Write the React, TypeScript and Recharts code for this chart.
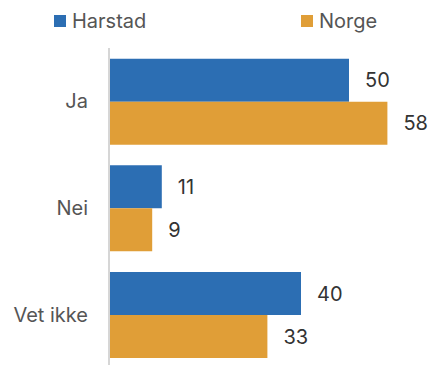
import React from "react";
import { BarChart, Bar, XAxis, YAxis, LabelList } from "recharts";

const categories = ["Ja", "Nei", "Vet ikke"];
const harstad = [50, 11, 40];
const norge = [58, 9, 33];
const seriesNames = ["Harstad", "Norge"];
const seriesColors = ["#2c6eb3", "#e09e37"];

const data = categories.map((c, i) => ({ name: c, Harstad: harstad[i], Norge: norge[i] }));

const FONT = "Inter, 'Noto Sans', sans-serif";

export default function App() {
  return (
    <div style={{ position: "absolute", left: 0, top: 0, width: 431, height: 365, overflow: "hidden", background: "#fff", fontFamily: FONT }}>
      <div style={{ position: "absolute", left: 0, top: 0, width: 431, height: 44 }}>
        {seriesNames.map((s, i) => (
          <div key={s} style={{ position: "absolute", left: i === 0 ? 54 : 301, top: 8, display: "flex", alignItems: "center", height: 26 }}>
            <div style={{ width: 12, height: 12, background: seriesColors[i], marginRight: 6 }} />
            <span style={{ fontSize: 20, color: "#555", lineHeight: "26px" }}>{s}</span>
          </div>
        ))}
      </div>
      <BarChart
        width={431}
        height={370}
        data={data}
        layout="vertical"
        margin={{ top: 48, right: 34, bottom: 2, left: 0 }}
        barCategoryGap="10%"
        barGap={0}
      >
        <XAxis type="number" domain={[0, 60]} hide />
        <YAxis
          type="category"
          dataKey="name"
          width={109}
          tickLine={false}
          tickMargin={15}
          axisLine={{ stroke: "#d6d6d6", strokeWidth: 2 }}
          tick={{ fontSize: 20, fill: "#555", fontFamily: FONT }}
        />
        <Bar dataKey="Harstad" fill={seriesColors[0]} isAnimationActive={false}>
          <LabelList dataKey="Harstad" position="right" offset={16} style={{ fontSize: 20, fill: "#333", fontFamily: FONT }} />
        </Bar>
        <Bar dataKey="Norge" fill={seriesColors[1]} isAnimationActive={false}>
          <LabelList dataKey="Norge" position="right" offset={16} style={{ fontSize: 20, fill: "#333", fontFamily: FONT }} />
        </Bar>
      </BarChart>
    </div>
  );
}
